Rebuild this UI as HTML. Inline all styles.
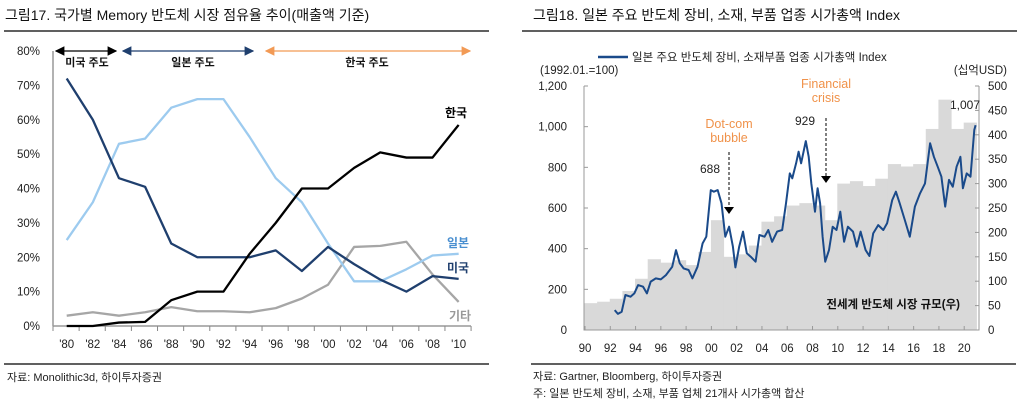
<!DOCTYPE html>
<html><head><meta charset="utf-8">
<style>
body{margin:0;background:#fff;width:1021px;height:406px;overflow:hidden;font-family:"Liberation Sans","Noto Sans CJK KR",sans-serif;}
svg text{font-family:"Liberation Sans","Noto Sans CJK KR",sans-serif;}
</style></head>
<body>
<svg id="s" width="1021" height="406" xmlns="http://www.w3.org/2000/svg">
<defs>
<marker id="ab" markerWidth="8" markerHeight="8" refX="7" refY="4" orient="auto"><path d="M0,0L8,4L0,8z" fill="#000"/></marker>
<marker id="abs" markerWidth="8" markerHeight="8" refX="1" refY="4" orient="auto"><path d="M8,0L0,4L8,8z" fill="#000"/></marker>
<marker id="an" markerWidth="8" markerHeight="8" refX="7" refY="4" orient="auto"><path d="M0,0L8,4L0,8z" fill="#1f3f6e"/></marker>
<marker id="ans" markerWidth="8" markerHeight="8" refX="1" refY="4" orient="auto"><path d="M8,0L0,4L8,8z" fill="#1f3f6e"/></marker>
<marker id="ao" markerWidth="8" markerHeight="8" refX="7" refY="4" orient="auto"><path d="M0,0L8,4L0,8z" fill="#f29a55"/></marker>
<marker id="aos" markerWidth="8" markerHeight="8" refX="1" refY="4" orient="auto"><path d="M8,0L0,4L8,8z" fill="#f29a55"/></marker>
</defs>
<text x="5" y="20" font-size="14" fill="#111">그림17. 국가별 Memory 반도체 시장 점유율 추이(매출액 기준)</text>
<line x1="4" y1="31" x2="489" y2="31" stroke="#000" stroke-width="1.2"/>
<text x="533" y="20" font-size="14" fill="#111">그림18. 일본 주요 반도체 장비, 소재, 부품 업종 시가총액 Index</text>
<line x1="522" y1="31" x2="1017" y2="31" stroke="#000" stroke-width="1.2"/>
<line x1="4" y1="364" x2="489" y2="364" stroke="#000" stroke-width="1.2"/>
<line x1="531" y1="364" x2="1016" y2="364" stroke="#000" stroke-width="1.2"/>
<text x="7" y="381" font-size="11" fill="#222">자료: Monolithic3d, 하이투자증권</text>
<text x="533" y="380" font-size="11" fill="#222">자료: Gartner, Bloomberg, 하이투자증권</text>
<text x="533" y="397" font-size="11" fill="#222">주: 일본 반도체 장비, 소재, 부품 업체 21개사 시가총액 합산</text>
<g id="L"></g><g id="R"></g>
</svg>
<script>
const lYears=["'80","'82","'84","'86","'88","'90","'92","'94","'96","'98","'00","'02","'04","'06","'08","'10"];
const usShare=[72,60,43,40.5,24,20,20,20,22,16,23,18,13.5,10,14.5,13.7];
const jpShare=[25,36,53,54.5,63.5,66,66,55,43,36,24,13,13,16.5,20.5,21];
const krShare=[0,0,1,1.2,7.5,10,10,21,30,40,40,46,50.5,49,49,58.5];
const otShare=[3,4,3,4,5.5,4.3,4.3,4,5.2,8,12,23,23.3,24.5,15,7];
const lTicks=[0,10,20,30,40,50,60,70,80];

const barYears=[1990,1991,1992,1993,1994,1995,1996,1997,1998,1999,2000,2001,2002,2003,2004,2005,2006,2007,2008,2009,2010,2011,2012,2013,2014,2015,2016,2017,2018,2019,2020];
const marketSize=[55,58,64,80,105,145,138,143,133,160,225,150,155,173,222,233,255,260,255,225,300,305,295,310,340,335,340,412,472,412,425];
const idxTime=[1992.35,1992.6,1992.9,1993.2,1993.6,1993.9,1994.2,1994.6,1994.9,1995.2,1995.6,1996.0,1996.4,1996.9,1997.2,1997.5,1997.8,1998.2,1998.5,1998.9,1999.3,1999.6,1999.95,2000.2,2000.5,2000.8,2001.1,2001.4,2001.7,2001.9,2002.2,2002.5,2002.8,2003.1,2003.5,2003.8,2004.2,2004.5,2004.8,2005.2,2005.6,2005.9,2006.2,2006.4,2006.7,2006.9,2007.1,2007.47,2007.7,2007.9,2008.2,2008.4,2008.6,2008.8,2009.0,2009.3,2009.6,2009.9,2010.2,2010.5,2010.8,2011.2,2011.5,2011.8,2012.2,2012.5,2012.8,2013.2,2013.6,2013.9,2014.3,2014.6,2014.9,2015.3,2015.7,2016.1,2016.5,2016.9,2017.3,2017.6,2017.9,2018.2,2018.5,2018.8,2019.1,2019.4,2019.7,2019.9,2020.2,2020.5,2020.8,2020.9];
const idxValue=[98,79,90,172,164,180,221,213,180,238,254,249,270,311,393,328,303,295,254,311,426,459,688,680,688,623,459,508,410,308,410,484,377,361,336,467,459,492,434,484,492,623,770,746,820,877,820,929,852,721,582,697,623,459,336,393,508,492,582,434,508,484,410,484,393,364,475,516,492,525,639,680,623,541,459,607,672,721,918,852,803,754,607,738,705,803,852,697,770,754,984,1007];
const rLeftTicks=[0,200,400,600,800,1000,1200];
const rRightTicks=[0,50,100,150,200,250,300,350,400,450,500];
const rXLabels=["90","92","94","96","98","00","02","04","06","08","10","12","14","16","18","20"];

const NS="http://www.w3.org/2000/svg";
function mk(p,t,a){const e=document.createElementNS(NS,t);for(const k in a)e.setAttribute(k,a[k]);p.appendChild(e);return e;}
function tx(p,x,y,s,o){const e=mk(p,'text',Object.assign({x:x,y:y,'font-size':11,fill:'#222'},o||{}));e.textContent=s;return e;}

// LEFT
const L=document.getElementById('L');
const lx=i=>66.7+i*26.13, ly=v=>326-v*3.4375;
lTicks.forEach(v=>{const t=tx(L,40,ly(v)+4,v+'%',{'text-anchor':'end','font-size':11.5});

});
mk(L,'line',{x1:53,y1:51,x2:53,y2:326,stroke:'#999','stroke-width':1.5});
mk(L,'line',{x1:53,y1:326,x2:471,y2:326,stroke:'#999','stroke-width':1.5});
for(let i=0;i<=16;i++){mk(L,'line',{x1:53+i*26.13,y1:326,x2:53+i*26.13,y2:331,stroke:'#888'});}
lYears.forEach((s,i)=>{const t=tx(L,lx(i),348,s,{'text-anchor':'middle','font-size':11.5});

});
function lline(d,c,n){const p=mk(L,'polyline',{points:d.map((v,i)=>lx(i)+','+ly(v)).join(' '),fill:'none',stroke:c,'stroke-width':2.3,'stroke-linejoin':'round'});

}
lline(otShare,'#a6a6a6','line-other');
lline(jpShare,'#9dcbef','line-japan');
lline(usShare,'#1f3f6e','line-us');
lline(krShare,'#000','line-korea');
mk(L,'line',{x1:56,y1:51,x2:116,y2:51,stroke:'#000','stroke-width':1.2,'marker-end':'url(#ab)','marker-start':'url(#abs)'});
mk(L,'line',{x1:123,y1:51,x2:253,y2:51,stroke:'#1f3f6e','stroke-width':1.2,'marker-end':'url(#an)','marker-start':'url(#ans)'});
mk(L,'line',{x1:266,y1:51,x2:470,y2:51,stroke:'#f29a55','stroke-width':1.2,'marker-end':'url(#ao)','marker-start':'url(#aos)'});
tx(L,87,66,'미국 주도',{'text-anchor':'middle','font-weight':'bold','fill':'#111'});
tx(L,193,66,'일본 주도',{'text-anchor':'middle','font-weight':'bold','fill':'#111'});
tx(L,367,66,'한국 주도',{'text-anchor':'middle','font-weight':'bold','fill':'#111'});
tx(L,456,117,'한국',{'text-anchor':'middle','font-size':12,'font-weight':'bold','fill':'#000'});
tx(L,458,247,'일본',{'text-anchor':'middle','font-size':12,'font-weight':'bold','fill':'#4a8fd0'});
tx(L,458,272,'미국',{'text-anchor':'middle','font-size':12,'font-weight':'bold','fill':'#1f3f6e'});
tx(L,460,320,'기타',{'text-anchor':'middle','font-size':12,'font-weight':'bold','fill':'#999'});

// RIGHT
const R=document.getElementById('R');
const rx=t=>585+(t-1990)*12.64, yl=v=>330-v*244/1200, yr=v=>330-v*244/500;
barYears.forEach((y,i)=>{const r=mk(R,'rect',{x:rx(y)-0.5,y:yr(marketSize[i]),width:13.2,height:330-yr(marketSize[i]),fill:'#d9d9d9'});

});
mk(R,'polyline',{points:'584,86 584,330 979,330 979,86',fill:'none',stroke:'#999','stroke-width':1});
rLeftTicks.forEach(v=>{mk(R,'line',{x1:584,y1:yl(v),x2:588,y2:yl(v),stroke:'#999'});
const t=tx(R,567,yl(v)+4,v.toLocaleString('en-US'),{'text-anchor':'end','font-size':11.5});

});
rRightTicks.forEach(v=>{mk(R,'line',{x1:975,y1:yr(v),x2:979,y2:yr(v),stroke:'#999'});
const t=tx(R,988,yr(v)+4,String(v),{'font-size':11.5});

});
rXLabels.forEach((s,i)=>{mk(R,'line',{x1:rx(1990+2*i),y1:330,x2:rx(1990+2*i),y2:326,stroke:'#999'});
const t=tx(R,rx(1990+2*i),352,s,{'text-anchor':'middle','font-size':11.5});

});
const ln=mk(R,'polyline',{points:idxTime.map((t,i)=>rx(t).toFixed(1)+','+yl(idxValue[i]).toFixed(1)).join(' '),fill:'none',stroke:'#1a4a8a','stroke-width':2,'stroke-linejoin':'round'});


mk(R,'line',{x1:598,y1:57,x2:628,y2:57,stroke:'#1a4a8a','stroke-width':2.5});
tx(R,632,61,'일본 주요 반도체 장비, 소재부품 업종 시가총액 Index',{'font-size':11.5});
tx(R,540,74,'(1992.01.=100)',{'font-size':11.5});
tx(R,1007,74,'(십억USD)',{'font-size':11.5,'text-anchor':'end'});
tx(R,729,128,'Dot-com',{'text-anchor':'middle','fill':'#f0924a','font-size':12.5});
tx(R,729,142,'bubble',{'text-anchor':'middle','fill':'#f0924a','font-size':12.5});
tx(R,826,88,'Financial',{'text-anchor':'middle','fill':'#f0924a','font-size':12.5});
tx(R,826,102,'crisis',{'text-anchor':'middle','fill':'#f0924a','font-size':12.5});
mk(R,'line',{x1:729,y1:152,x2:729,y2:207,stroke:'#000','stroke-dasharray':'3,2'});
mk(R,'path',{d:'M724,207L734,207L729,214z',fill:'#000'});
mk(R,'line',{x1:826,y1:118,x2:826,y2:176,stroke:'#000','stroke-dasharray':'3,2'});
mk(R,'path',{d:'M821,176L831,176L826,183z',fill:'#000'});
tx(R,710,173,'688',{'text-anchor':'middle','font-size':12});
tx(R,805,125,'929',{'text-anchor':'middle','font-size':12});
tx(R,965,109,'1,007',{'text-anchor':'middle','font-size':12});
tx(R,960,308,'전세계 반도체 시장 규모(우)',{'text-anchor':'end','font-size':11.5,'font-weight':'bold','fill':'#111'});
</script>
</body></html>
